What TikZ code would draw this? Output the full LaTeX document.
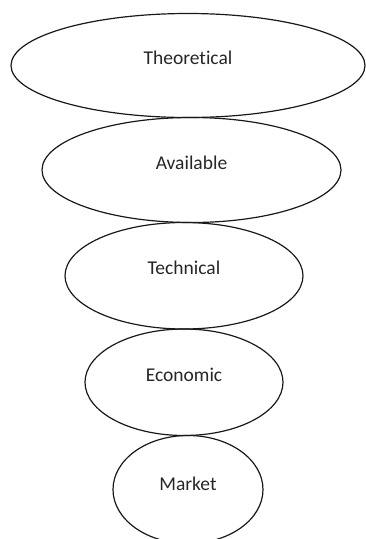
\documentclass[tikz,border=0pt]{standalone}
\usepackage{fontspec}
\setmainfont{Carlito}[Ligatures=NoCommon]
\usetikzlibrary{shapes.geometric,positioning}

\begin{document}
\begin{tikzpicture}[x=1pt, y=1pt, node distance=0pt, line width=1.2pt,
                    level node/.style={ellipse,draw=black!90,inner sep=0pt,outer sep=0pt},
                    level text/.style={font=\fontsize{19.5}{22}\selectfont,text=black!85}]

  \useasboundingbox (0,0) rectangle (365,-539);

   \node[level node,minimum width=354pt,minimum height=104pt] (theo) at (188,-65.5) {};
  \node[level node,minimum width=299pt,minimum height=105pt] (avail) [below=of theo,xshift=3.5pt] {};
    \node[level node,minimum width=238pt,minimum height=106.5pt] (tech) [below=of avail,xshift=-7.5pt] {};
      \node[level node,minimum width=198pt,minimum height=106.5pt] (econ) [below=of tech] {};
        \node[level node,minimum width=150pt,minimum height=108pt] (mark) [below=of econ,xshift=4pt] {};

   \node[level text] (theo text) at ([yshift=7.5pt]theo.center) {Theoretical};
   \node[level text] (avail text) at ([yshift=7.5pt]avail.center) {Available};
   \node[level text] (tech text) at ([yshift=7.5pt]tech.center) {Technical};
   \node[level text] (econ text) at ([yshift=7.5pt]econ.center) {Economic};
   \node[level text] (mark text) at ([yshift=6pt]mark.center) {Market};

\end{tikzpicture}
\end{document}
